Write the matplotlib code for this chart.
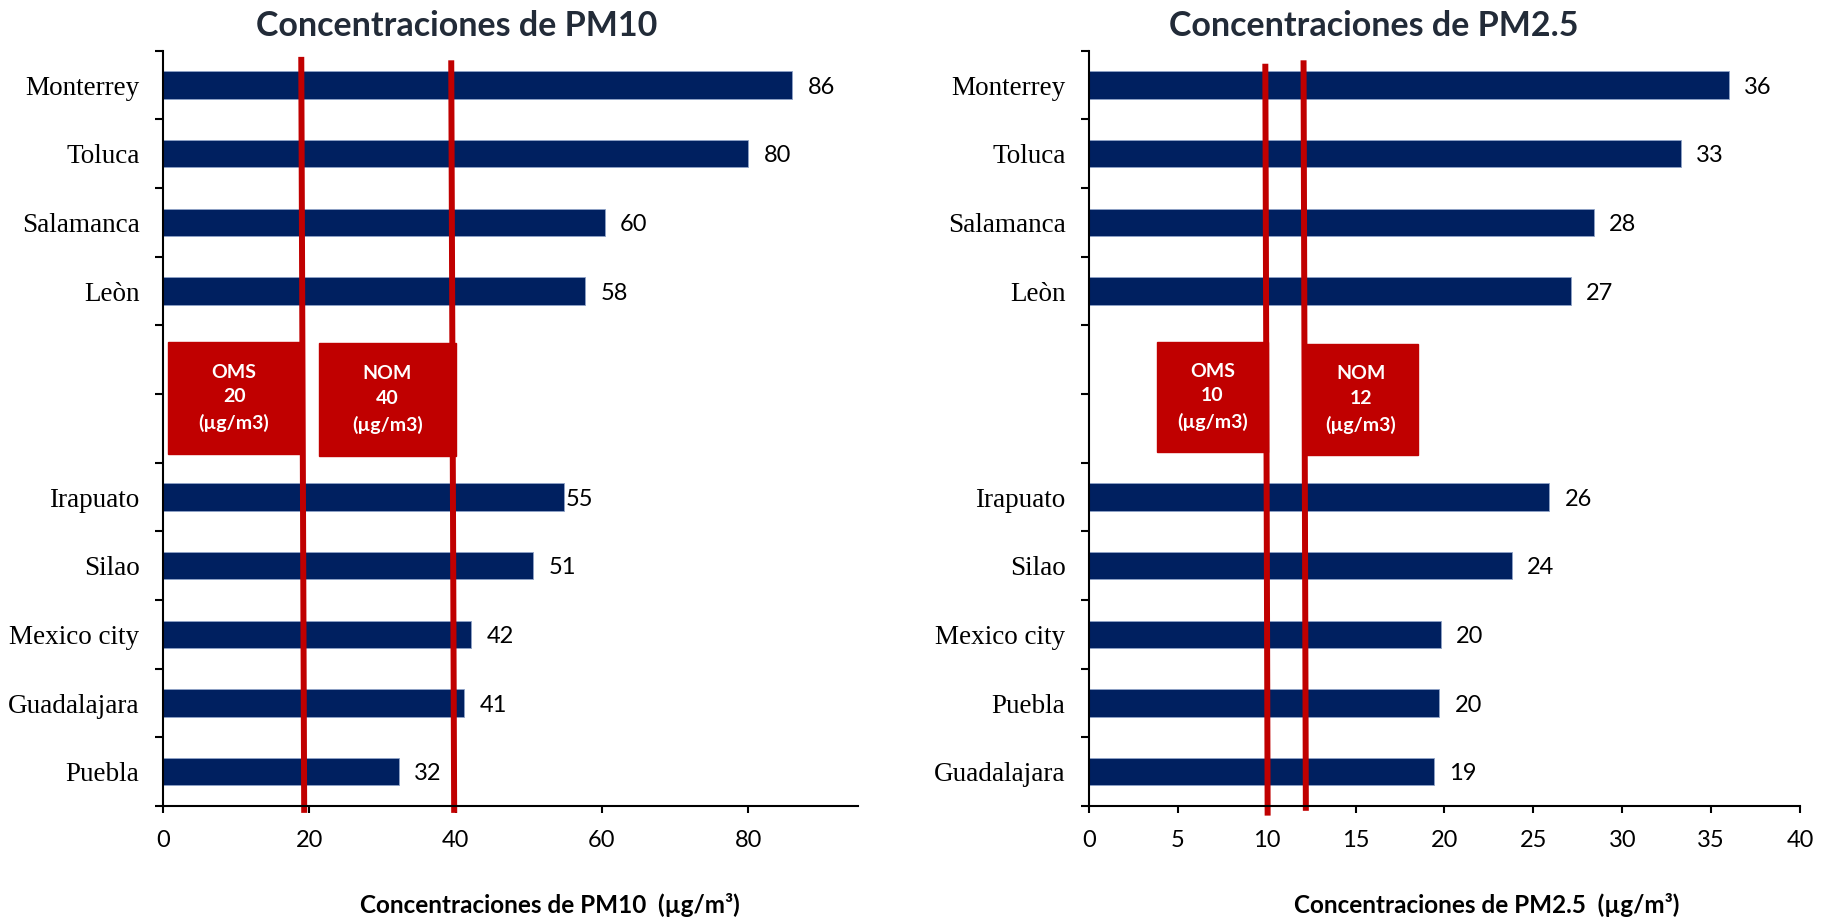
import numpy as np
import matplotlib.pyplot as plt
from matplotlib.patches import Rectangle

# data (two empty slots between Leòn and Irapuato, as in the source sheet)
pm10_cities = ["Monterrey", "Toluca", "Salamanca", "Leòn", "", "",
               "Irapuato", "Silao", "Mexico city", "Guadalajara", "Puebla"]
pm10_values = [86.0, 80.0, 60.4, 57.7, np.nan, np.nan, 54.8, 50.6, 42.1, 41.2, 32.2]

pm25_cities = ["Monterrey", "Toluca", "Salamanca", "Leòn", "", "",
               "Irapuato", "Silao", "Mexico city", "Puebla", "Guadalajara"]
pm25_values = [36.0, 33.3, 28.4, 27.1, np.nan, np.nan, 25.9, 23.8, 19.8, 19.7, 19.4]

limit_names = ["OMS", "NOM"]
pm10_limits = [20, 40]
pm25_limits = [10, 12]

NAVY = "#002060"
RED = "#C00000"
SANS = ["Lato", "DejaVu Sans"]
SERIF = ["Liberation Serif", "DejaVu Serif"]

W, H = 1824, 917
fig = plt.figure(figsize=(W / 100, H / 100), dpi=100)
top_px, bot_px = 50.7, 806
ax1 = fig.add_axes([163 / W, 1 - bot_px / H, (858 - 163) / W, (bot_px - top_px) / H])
ax2 = fig.add_axes([1089 / W, 1 - bot_px / H, 711 / W, (bot_px - top_px) / H])


def panel(ax, cities, values, xmax, xticks, limits, line_pos, boxes, gaps):
    y = np.arange(len(cities))
    ax.barh(y, values, height=0.4, color=NAVY, edgecolor="#8FA3C8", linewidth=0.6, zorder=2)
    for yi, v, g in zip(y, values, gaps):
        if np.isnan(v):
            continue
        ax.annotate(f"{v:.0f}", (v, yi), xytext=(g, 0), textcoords="offset points",
                    ha="left", va="center_baseline", fontsize=17, family=SANS, zorder=6)

    ax.set_ylim(len(cities) - 0.5, -0.5)
    ax.set_xlim(0, xmax)
    ax.set_yticks(np.arange(len(cities) + 1) - 0.5)
    ax.set_yticklabels([])
    ax.set_yticks(y, minor=True)
    ax.set_yticklabels(cities, minor=True, fontsize=19.5, family=SERIF)
    ax.tick_params(axis="y", which="minor", length=0, pad=17)
    ax.tick_params(axis="y", which="major", length=6, width=1.5, direction="out")
    ax.set_xticks(xticks)
    ax.set_xticklabels([str(t) for t in xticks], fontsize=17, family=SANS)
    ax.tick_params(axis="x", length=5, width=1.5, pad=12)
    for s in ["top", "right"]:
        ax.spines[s].set_visible(False)
    for s in ["left", "bottom"]:
        ax.spines[s].set_linewidth(1.5)
        ax.spines[s].set_zorder(5)

    # threshold lines, hand-drawn in the original (slightly slanted)
    for (xt, xb, yt, yb) in line_pos:
        ax.plot([xt, xb], [yt, yb], color=RED, lw=4.3, solid_capstyle="butt",
                clip_on=False, zorder=3)
    for name, val, (x0, x1, y0, y1) in zip(limit_names, limits, boxes):
        ax.add_patch(Rectangle((x0, y0), x1 - x0, y1 - y0, color=RED, zorder=4))
        ax.text((x0 + x1) / 2, (y0 + y1) / 2, f"{name}\n{val}\n(µg/m3)",
                ha="center", va="center", color="white", fontsize=14,
                weight="bold", family=SANS, linespacing=1.55, zorder=5)


gaps10 = [11, 11, 11, 11, 0, 0, 1.5, 11, 11, 11, 11]
gaps25 = [11] * 11

panel(ax1, pm10_cities, pm10_values, 95, [0, 20, 40, 60, 80], pm10_limits,
      [(18.9, 19.3, -0.41, 10.6), (39.4, 39.8, -0.36, 10.6)],
      [(0.63, 18.8, 3.74, 5.37), (21.3, 40.0, 3.76, 5.40)], gaps10)
panel(ax2, pm25_cities, pm25_values, 40, list(range(0, 41, 5)), pm25_limits,
      [(9.92, 10.05, -0.31, 10.64), (12.07, 12.2, -0.36, 10.57)],
      [(3.83, 10.05, 3.74, 5.34), (12.07, 18.5, 3.77, 5.39)], gaps25)

fig.text(457 / W, 1 - 36 / H, "Concentraciones de PM10", ha="center", va="baseline",
         fontsize=24.5, weight="bold", color="#222B38", family=SANS)
fig.text(1374 / W, 1 - 36 / H, "Concentraciones de PM2.5", ha="center", va="baseline",
         fontsize=24.5, weight="bold", color="#222B38", family=SANS)
fig.text(549.6 / W, 1 - 913 / H, "Concentraciones de PM10  (µg/m³)", ha="center",
         va="baseline", fontsize=17.5, weight="bold", family=SANS)
fig.text(1487 / W, 1 - 913 / H, "Concentraciones de PM2.5  (µg/m³)", ha="center",
         va="baseline", fontsize=17.5, weight="bold", family=SANS)

fig.savefig("out.png", dpi=100)
